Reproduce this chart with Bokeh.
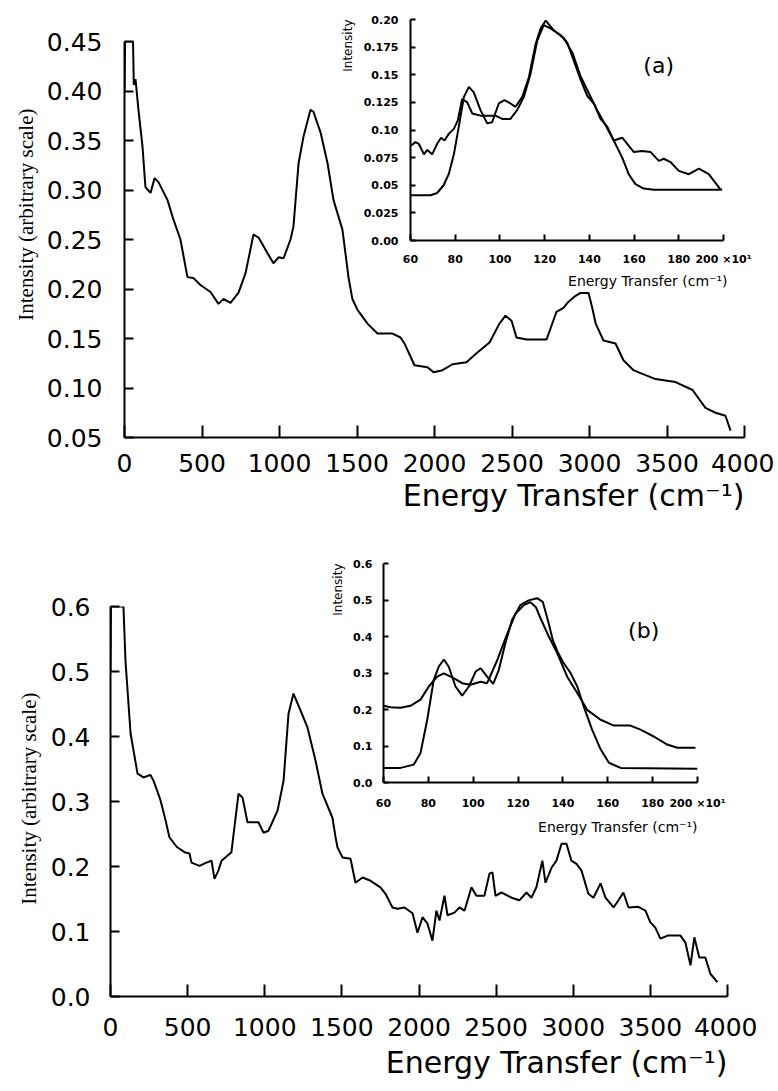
from bokeh.plotting import figure
from bokeh.layouts import column
from bokeh.models import Range1d, FixedTicker, Title, Label, NumeralTickFormatter
from bokeh.embed import file_html
from bokeh.resources import INLINE

# ---------------- data ----------------
# Panel (a) main spectrum
a_energy = [0, 4, 55, 60, 71, 90, 116, 135, 168, 194, 219, 277, 316, 361, 406, 445, 490, 555, 606,
            639, 684, 735, 781, 832, 865, 923, 961, 994, 1026, 1071, 1090, 1123, 1155, 1200, 1219,
            1265, 1310, 1348, 1406, 1445, 1470, 1503, 1568, 1632, 1729, 1781, 1806, 1871, 1955,
            1994, 2052, 2116, 2206, 2271, 2355, 2419, 2458, 2497, 2529, 2594, 2723, 2787, 2832,
            2858, 2900, 2942, 2994, 3019, 3040, 3090, 3168, 3219, 3284, 3329, 3426, 3555, 3665,
            3748, 3813, 3877, 3910]
a_intensity = [0.40, 0.45, 0.45, 0.406, 0.412, 0.381, 0.344, 0.303, 0.297, 0.312, 0.308, 0.290,
               0.270, 0.250, 0.212, 0.211, 0.204, 0.197, 0.185, 0.190, 0.186, 0.196, 0.216, 0.255,
               0.252, 0.236, 0.226, 0.232, 0.231, 0.250, 0.263, 0.327, 0.354, 0.381, 0.379, 0.358,
               0.327, 0.290, 0.260, 0.212, 0.190, 0.179, 0.165, 0.155, 0.155, 0.151, 0.145, 0.123,
               0.121, 0.116, 0.118, 0.124, 0.126, 0.135, 0.146, 0.165, 0.173, 0.168, 0.151, 0.149,
               0.149, 0.177, 0.181, 0.186, 0.192, 0.196, 0.196, 0.180, 0.165, 0.148, 0.145, 0.128,
               0.118, 0.115, 0.109, 0.106, 0.098, 0.080, 0.075, 0.072, 0.057]

# Panel (b) main spectrum
b_energy = [0, 3, 78, 84, 97, 130, 175, 214, 259, 279, 324, 357, 382, 430, 480, 512, 525, 577, 622,
            655, 674, 700, 720, 784, 798, 830, 856, 888, 927, 959, 992, 1024, 1083, 1122, 1154,
            1186, 1232, 1277, 1329, 1374, 1439, 1459, 1472, 1504, 1556, 1588, 1634, 1686, 1750,
            1783, 1828, 1860, 1906, 1958, 1990, 2023, 2055, 2087, 2113, 2133, 2165, 2185, 2230,
            2262, 2295, 2340, 2372, 2424, 2457, 2476, 2496, 2535, 2600, 2651, 2697, 2729, 2761,
            2800, 2820, 2859, 2891, 2924, 2956, 2988, 3021, 3053, 3098, 3131, 3177, 3209, 3261,
            3293, 3325, 3358, 3422, 3468, 3500, 3532, 3565, 3616, 3694, 3727, 3760, 3785, 3817,
            3856, 3889, 3934]
b_intensity = [0.50, 0.60, 0.60, 0.60, 0.517, 0.405, 0.343, 0.337, 0.341, 0.332, 0.302, 0.271,
               0.245, 0.230, 0.222, 0.220, 0.206, 0.201, 0.206, 0.209, 0.181, 0.194, 0.209, 0.222,
               0.250, 0.312, 0.306, 0.268, 0.268, 0.268, 0.252, 0.255, 0.286, 0.332, 0.435, 0.466,
               0.440, 0.414, 0.363, 0.312, 0.275, 0.245, 0.229, 0.214, 0.212, 0.175, 0.183, 0.178,
               0.168, 0.158, 0.137, 0.135, 0.137, 0.128, 0.098, 0.122, 0.112, 0.086, 0.132, 0.117,
               0.155, 0.125, 0.129, 0.137, 0.132, 0.168, 0.155, 0.155, 0.189, 0.191, 0.155, 0.160,
               0.152, 0.148, 0.160, 0.152, 0.168, 0.209, 0.175, 0.198, 0.209, 0.235, 0.235, 0.209,
               0.204, 0.194, 0.158, 0.152, 0.174, 0.152, 0.137, 0.148, 0.160, 0.137, 0.138, 0.132,
               0.114, 0.106, 0.089, 0.094, 0.094, 0.083, 0.048, 0.091, 0.060, 0.060, 0.035, 0.022]

# Inset (a): experimental and calculated (x10^1 cm^-1)
ia_exp_energy = [60.3, 62.2, 63.7, 66, 67.5, 69.7, 71.9, 73.7, 75.2, 77.1, 79.4, 81.2, 83.1, 85.4,
                 87.6, 91.3, 98, 101, 104.7, 107.7, 110.7, 113.7, 116.7, 119.6, 122.6, 127.1,
                 130.1, 133, 136, 139, 142, 145, 148, 150.9, 154.7, 159.9, 163.6, 167.4, 171.1,
                 173.3, 176.3, 180, 184.5, 189, 193.4, 198.7]
ia_exp_intensity = [0.086, 0.089, 0.0875, 0.078, 0.082, 0.078, 0.0875, 0.093, 0.0905, 0.0965,
                    0.101, 0.109, 0.128, 0.125, 0.115, 0.113, 0.113, 0.110, 0.110, 0.118, 0.130,
                    0.151, 0.181, 0.195, 0.192, 0.186, 0.179, 0.163, 0.146, 0.131, 0.124, 0.110,
                    0.103, 0.0905, 0.093, 0.080, 0.081, 0.080, 0.072, 0.074, 0.071, 0.063, 0.060,
                    0.065, 0.060, 0.046]
ia_calc_energy = [60.3, 69, 71.9, 74.8, 77.1, 79.4, 81.6, 83.9, 86.1, 88.3, 91.3, 94.3, 96.5, 99.5,
                  102, 104.7, 107, 110, 113, 116, 118.2, 120.5, 124.2, 128.6, 132.4, 136, 139.8,
                  143.5, 147.3, 150.9, 154.7, 157.6, 160.6, 164.3, 168.8, 199.4]
ia_calc_intensity = [0.041, 0.041, 0.043, 0.050, 0.060, 0.078, 0.103, 0.130, 0.139, 0.134, 0.118,
                     0.106, 0.107, 0.124, 0.127, 0.124, 0.121, 0.130, 0.148, 0.178, 0.192, 0.199,
                     0.190, 0.183, 0.170, 0.149, 0.133, 0.118, 0.104, 0.0905, 0.075, 0.060, 0.051,
                     0.047, 0.046, 0.046]

# Inset (b)
ib_exp_energy = [60.1, 63.1, 67.6, 72, 76.5, 80.2, 83.9, 86.9, 91.3, 95.1, 98.8, 103.3, 106.2,
                 110.7, 115.2, 118.9, 122.6, 125.5, 128, 130, 133.7, 137.5, 141.9, 146.4, 150.8,
                 156.8, 162.7, 170.1, 174.6, 180.5, 186.5, 191, 199.1]
ib_exp_intensity = [0.210, 0.206, 0.205, 0.210, 0.227, 0.263, 0.290, 0.299, 0.286, 0.272, 0.268,
                    0.276, 0.272, 0.335, 0.408, 0.463, 0.486, 0.494, 0.48, 0.45, 0.40, 0.354, 0.29,
                    0.245, 0.199, 0.172, 0.156, 0.156, 0.145, 0.126, 0.104, 0.095, 0.095]
ib_calc_energy = [60.1, 67.6, 73.5, 76.5, 79.5, 82.4, 84.6, 86.9, 89.1, 92.1, 95.1, 98.1, 101.1,
                  103.3, 106.2, 108.9, 111.4, 114.3, 117.3, 121, 124.7, 128.5, 131, 133.5, 135.5,
                  137.5, 140, 143.4, 146.4, 149.3, 153, 156.8, 160.5, 165.7, 200]
ib_calc_intensity = [0.040, 0.040, 0.049, 0.081, 0.172, 0.281, 0.317, 0.337, 0.317, 0.263, 0.238,
                     0.263, 0.304, 0.313, 0.290, 0.270, 0.308, 0.381, 0.445, 0.486, 0.499, 0.505,
                     0.495, 0.44, 0.39, 0.36, 0.33, 0.30, 0.263, 0.208, 0.145, 0.091, 0.054, 0.040,
                     0.038]

main_xticks = [0, 500, 1000, 1500, 2000, 2500, 3000, 3500, 4000]
a_yticks = [0.05, 0.10, 0.15, 0.20, 0.25, 0.30, 0.35, 0.40, 0.45]
b_yticks = [0.0, 0.1, 0.2, 0.3, 0.4, 0.5, 0.6]
inset_xticks = [60, 80, 100, 120, 140, 160, 180, 200]
inset_xlabels = ["60", "80", "100", "120", "140", "160", "180", "200 \u00d710\u00b9"]
ia_yticks = [0.0, 0.025, 0.05, 0.075, 0.10, 0.125, 0.15, 0.175, 0.20]
ia_ylabels = ["0.00", "0.025", "0.05", "0.075", "0.10", "0.125", "0.15", "0.175", "0.20"]
ib_yticks = [0.0, 0.1, 0.2, 0.3, 0.4, 0.5, 0.6]

XLABEL = "Energy Transfer (cm\u207b\u00b9)"
YLABEL = "Intensity (arbitrary scale)"
SANS = "DejaVu Sans"
SERIF = "Liberation Serif"

# all figures in the column share the same side borders (frames get aligned)
BORDER_L = 124
BORDER_R = 30


def base_fig(frame_w, height, xr, yr, top, bottom, margin):
    p = figure(width=BORDER_L + frame_w + BORDER_R, height=height,
               x_range=Range1d(*xr), y_range=Range1d(*yr),
               output_backend="svg", toolbar_location=None,
               min_border_left=BORDER_L, min_border_right=BORDER_R,
               min_border_top=top, min_border_bottom=bottom)
    p.margin = margin
    p.background_fill_color = None
    p.border_fill_color = None
    p.outline_line_color = None
    p.xgrid.visible = False
    p.ygrid.visible = False
    return p


def style_axis(ax, ticks, font_size, tick_in, standoff, style="normal", overrides=None):
    ax.ticker = FixedTicker(ticks=ticks)
    ax.axis_line_width = 2
    ax.axis_line_color = "black"
    ax.major_tick_line_width = 2
    ax.major_tick_line_color = "black"
    ax.major_tick_in = tick_in
    ax.major_tick_out = 0
    ax.minor_tick_line_color = None
    ax.major_label_text_font = SANS
    ax.major_label_text_font_size = font_size
    ax.major_label_text_font_style = style
    ax.major_label_text_color = "black"
    ax.major_label_standoff = standoff
    if overrides:
        ax.major_label_overrides = overrides


def add_title(p, text, loc, size, align, font=SANS, standoff=0, offset=0):
    t = Title(text=text, align=align, text_font=font, text_font_size=size,
              text_font_style="normal", text_color="black", standoff=standoff, offset=offset)
    p.add_layout(t, loc)


# ---------------- panel (a) main ----------------
pa = base_fig(620, 524, (0, 4000), (0.05, 0.45), 41, 87, margin=(0, 0, 0, 0))
pa.line(a_energy, a_intensity, line_color="black", line_width=2)
style_axis(pa.xaxis[0], main_xticks, "25px", 12, 16)
style_axis(pa.yaxis[0], a_yticks, "25px", 9, 22)
pa.yaxis[0].formatter = NumeralTickFormatter(format="0.00")
add_title(pa, XLABEL, "below", "30px", "right", standoff=3, offset=0)
add_title(pa, YLABEL, "left", "21px", "right", font=SERIF, standoff=11, offset=67)

# ---------------- inset (a) ----------------
ia = base_fig(313, 286, (60, 200), (0.0, 0.20), 13, 52, margin=(-518, 0, 232, 410 - BORDER_L))
ia.line(ia_exp_energy, ia_exp_intensity, line_color="black", line_width=2)
ia.line(ia_calc_energy, ia_calc_intensity, line_color="black", line_width=2)
style_axis(ia.xaxis[0], inset_xticks, "11px", 6, 12, style="bold",
           overrides={t: s for t, s in zip(inset_xticks, inset_xlabels)})
style_axis(ia.yaxis[0], ia_yticks, "11px", 5, 12, style="bold",
           overrides={t: s for t, s in zip(ia_yticks, ia_ylabels)})
add_title(ia, XLABEL, "below", "14px", "right", standoff=4, offset=-4)
add_title(ia, "Intensity", "left", "12px", "right", standoff=12, offset=0)
ia.add_layout(Label(x=171, y=0.158, text="(a)", text_font=SANS, text_font_size="22px",
                    text_align="center", text_baseline="middle", text_color="black"))

# ---------------- panel (b) main ----------------
pb = base_fig(617, 565, (0, 4000), (0.0, 0.6), 82, 93, margin=(0, 0, 0, 110 - BORDER_L))
pb.line(b_energy, b_intensity, line_color="black", line_width=2)
style_axis(pb.xaxis[0], main_xticks, "25px", 12, 21)
style_axis(pb.yaxis[0], b_yticks, "25px", 9, 20)
pb.yaxis[0].formatter = NumeralTickFormatter(format="0.0")
add_title(pb, XLABEL, "below", "30px", "right", standoff=8, offset=0)
add_title(pb, YLABEL, "left", "21px", "right", font=SERIF, standoff=14, offset=86)

# ---------------- inset (b) ----------------
ib = base_fig(314, 288, (60, 200), (0.0, 0.6), 13, 55, margin=(-539, 0, 251, 383 - BORDER_L))
ib.line(ib_exp_energy, ib_exp_intensity, line_color="black", line_width=2)
ib.line(ib_calc_energy, ib_calc_intensity, line_color="black", line_width=2)
style_axis(ib.xaxis[0], inset_xticks, "11px", 6, 14, style="bold",
           overrides={t: s for t, s in zip(inset_xticks, inset_xlabels)})
style_axis(ib.yaxis[0], ib_yticks, "11px", 5, 11, style="bold")
ib.yaxis[0].formatter = NumeralTickFormatter(format="0.0")
add_title(ib, XLABEL, "below", "14px", "right", standoff=8, offset=0)
add_title(ib, "Intensity", "left", "12px", "right", standoff=12, offset=0)
ib.add_layout(Label(x=176, y=0.417, text="(b)", text_font=SANS, text_font_size="22px",
                    text_align="center", text_baseline="middle", text_color="black"))

layout = column(pa, ia, pb, ib, spacing=0)
open("out.html", "w").write(file_html(layout, INLINE))
